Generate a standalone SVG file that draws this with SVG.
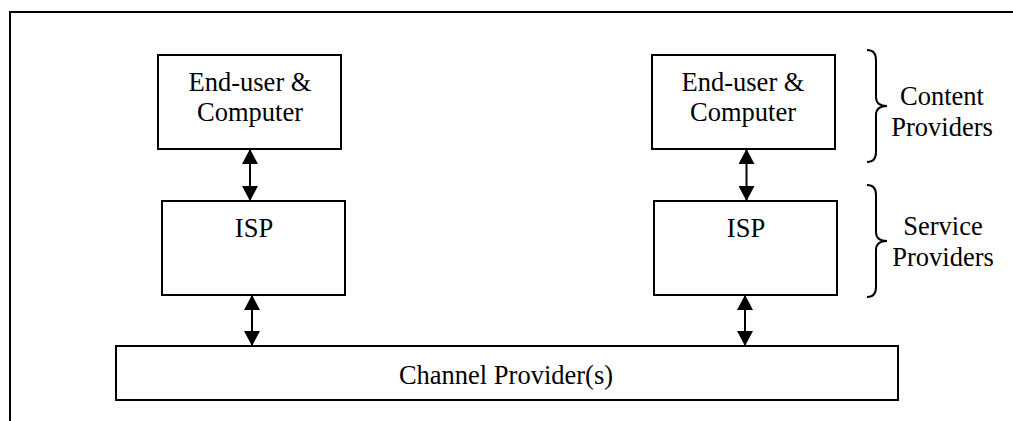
<svg xmlns="http://www.w3.org/2000/svg" width="1013" height="421" viewBox="0 0 1013 421">
  <style>
    .box { fill: #fff; stroke: #000; stroke-width: 2; }
    .lbl { font-family: "Liberation Serif", "Times New Roman", serif; font-size: 26.5px; fill: #000; text-anchor: middle; }
    .link { stroke: #000; stroke-width: 2; fill: none; marker-start: url(#head); marker-end: url(#head); }
    .brace { stroke: #000; stroke-width: 2; fill: none; }
  </style>
  <defs>
    <marker id="head" markerUnits="userSpaceOnUse" markerWidth="16" markerHeight="16" refX="15" refY="8" orient="auto-start-reverse">
      <path d="M0,0 L15,8 L0,16 Z" fill="#000"/>
    </marker>
  </defs>
  <rect width="1013" height="421" fill="#fff"/>
  <!-- page frame (top and left edges) -->
  <path d="M10,421 L10,12 L1013,12" fill="none" stroke="#000" stroke-width="2"/>

  <g id="enduser-left">
    <rect class="box" x="158" y="55" width="183" height="94"/>
    <text class="lbl" x="250" y="91">End-user &amp;</text>
    <text class="lbl" x="250" y="121">Computer</text>
  </g>
  <g id="enduser-right">
    <rect class="box" x="652" y="55" width="183" height="94"/>
    <text class="lbl" x="743" y="91">End-user &amp;</text>
    <text class="lbl" x="743" y="121">Computer</text>
  </g>
  <g id="isp-left">
    <rect class="box" x="162" y="201" width="183" height="94"/>
    <text class="lbl" x="254" y="237">ISP</text>
  </g>
  <g id="isp-right">
    <rect class="box" x="654" y="201" width="183" height="94"/>
    <text class="lbl" x="746" y="237">ISP</text>
  </g>
  <g id="channel">
    <rect class="box" x="116" y="346" width="782" height="54"/>
    <text class="lbl" x="506" y="384">Channel Provider(s)</text>
  </g>

  <g id="connectors">
    <line class="link" x1="250" y1="149" x2="250" y2="201"/>
    <line class="link" x1="252" y1="295" x2="252" y2="346"/>
    <line class="link" x1="746.5" y1="149" x2="746.5" y2="201"/>
    <line class="link" x1="745" y1="295" x2="745" y2="346"/>
  </g>

  <g id="content-providers">
    <path class="brace" d="M867,50 Q876,50 876,60 L876,97 Q876,106 887,106 Q876,106 876,115 L876,152 Q876,162 867,162"/>
    <text class="lbl" x="942" y="105">Content</text>
    <text class="lbl" x="942" y="136">Providers</text>
  </g>
  <g id="service-providers">
    <path class="brace" d="M867,185 Q876,185 876,195 L876,232 Q876,241 887,241 Q876,241 876,250 L876,287 Q876,297 867,297"/>
    <text class="lbl" x="943" y="235">Service</text>
    <text class="lbl" x="943" y="266">Providers</text>
  </g>
</svg>
